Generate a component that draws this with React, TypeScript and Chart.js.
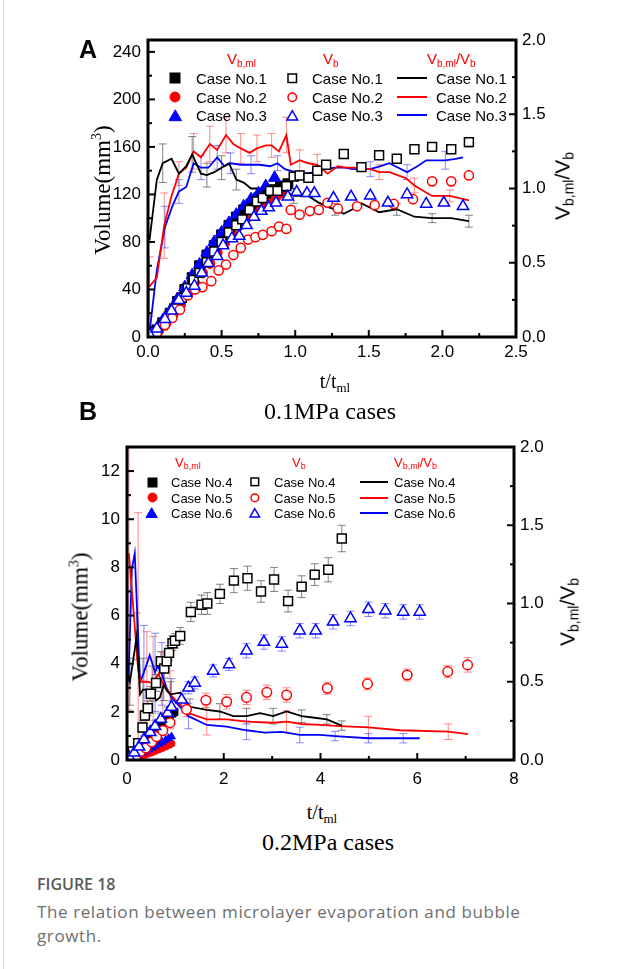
import React, { useEffect, useRef } from "react";
import { Chart, registerables } from "chart.js";
Chart.register(...registerables);

// ---------------- Panel A (0.1MPa) data ----------------
const A_X_TICKS = [0, 0.5, 1, 1.5, 2, 2.5];
const A_Y_TICKS = [0, 40, 80, 120, 160, 200, 240];
const A_Y2_TICKS = [0, 0.5, 1, 1.5, 2];
const A_CASES = ["Case No.1", "Case No.2", "Case No.3"];

// V_b,ml (filled)
const A_ML1 = [[0.02, 2], [0.06, 6], [0.1, 12], [0.15, 20], [0.2, 30], [0.25, 40], [0.3, 50], [0.35, 60], [0.4, 69], [0.45, 77], [0.5, 86], [0.55, 94], [0.6, 101], [0.65, 107], [0.7, 112], [0.75, 117], [0.8, 121], [0.85, 124], [0.9, 127], [0.95, 129]];
const A_ML2 = [[0.03, 2], [0.07, 5], [0.12, 11], [0.17, 19], [0.22, 27], [0.27, 36], [0.32, 45], [0.37, 54], [0.42, 62], [0.47, 71], [0.52, 79], [0.57, 87], [0.62, 94], [0.67, 100], [0.72, 106], [0.77, 111], [0.82, 115], [0.87, 118], [0.92, 121]];
const A_ML3 = [[0.02, 2], [0.06, 7], [0.1, 14], [0.15, 22], [0.2, 32], [0.25, 42], [0.3, 52], [0.35, 61], [0.4, 71], [0.45, 80], [0.5, 88], [0.55, 96], [0.6, 103], [0.65, 110], [0.7, 116], [0.75, 121], [0.8, 127], [0.86, 134]];
// V_b (open)
const A_B1 = [[0.02, 1], [0.05, 4], [0.1, 10], [0.14, 17], [0.18, 24], [0.23, 33], [0.27, 41], [0.31, 48], [0.35, 54], [0.4, 63], [0.45, 72], [0.5, 80], [0.55, 88], [0.6, 94], [0.64, 99], [0.69, 107], [0.74, 114], [0.78, 117], [0.83, 123], [0.88, 123], [0.94, 127], [0.99, 135, 3], [1.03, 136, 3], [1.09, 134, 4], [1.15, 140], [1.21, 145], [1.33, 154], [1.45, 143, 3], [1.57, 153], [1.69, 150, 3], [1.81, 158, 3], [1.93, 160, 3], [2.06, 158, 3], [2.18, 164, 4]];
const A_B2 = [[0.02, 1], [0.06, 3], [0.115, 10], [0.165, 16], [0.217, 23], [0.27, 35], [0.32, 40], [0.37, 42], [0.43, 47], [0.48, 56], [0.53, 61], [0.58, 69], [0.63, 75], [0.68, 82], [0.73, 84], [0.78, 86], [0.84, 89], [0.89, 93], [0.94, 91], [0.97, 107], [1.03, 103], [1.1, 106], [1.16, 107], [1.22, 113], [1.29, 108], [1.42, 110], [1.54, 111], [1.67, 112], [1.8, 116], [1.93, 131], [2.06, 131], [2.18, 136]];
const A_B3 = [[0.01, 2], [0.06, 7], [0.115, 15], [0.16, 22], [0.21, 31], [0.26, 37], [0.315, 43], [0.365, 54], [0.41, 62], [0.47, 68], [0.51, 77], [0.57, 83], [0.62, 85], [0.67, 94], [0.72, 101], [0.77, 106], [0.82, 109], [0.87, 113], [0.95, 118], [1.01, 122], [1.08, 121], [1.13, 121], [1.26, 117], [1.38, 118], [1.51, 119], [1.63, 113], [1.76, 120], [1.89, 112], [2.01, 113], [2.14, 110]];
// V_b,ml / V_b (lines, right axis) [x, y, err]
const A_R1 = [[0.01, 0.65, 0], [0.06, 1.06, 0], [0.1, 1.17, 0.13], [0.16, 1.2, 0], [0.21, 1.1, 0], [0.26, 1.15, 0], [0.3, 1.23, 0.12], [0.36, 1.1, 0], [0.4, 1.09, 0.08], [0.45, 1.11, 0], [0.5, 1.14, 0.08], [0.55, 1.17, 0], [0.6, 1.06, 0.07], [0.65, 1.04, 0], [0.7, 1.0, 0], [0.76, 1.0, 0], [0.8, 1.01, 0], [0.85, 0.99, 0], [0.9, 1.01, 0], [0.94, 0.98, 0], [0.99, 0.95, 0.05], [1.03, 0.95, 0], [1.09, 0.95, 0], [1.15, 0.91, 0], [1.21, 0.88, 0], [1.27, 0.86, 0.04], [1.33, 0.83, 0], [1.39, 0.86, 0], [1.45, 0.9, 0], [1.51, 0.87, 0], [1.57, 0.84, 0], [1.69, 0.86, 0.04], [1.81, 0.81, 0], [1.93, 0.8, 0.03], [2.06, 0.8, 0], [2.18, 0.78, 0.04]];
const A_R2 = [[0.01, 0.34, 0.2], [0.06, 0.4, 0], [0.11, 0.75, 0.22], [0.16, 0.95, 0], [0.21, 1.1, 0.08], [0.26, 1.14, 0], [0.31, 1.25, 0.12], [0.36, 1.21, 0], [0.42, 1.3, 0.12], [0.47, 1.26, 0], [0.53, 1.36, 0.12], [0.58, 1.3, 0], [0.63, 1.27, 0.1], [0.69, 1.24, 0], [0.74, 1.27, 0.09], [0.8, 1.29, 0], [0.84, 1.29, 0.08], [0.89, 1.25, 0], [0.94, 1.36, 0.12], [0.97, 1.16, 0], [1.03, 1.19, 0.07], [1.09, 1.17, 0], [1.15, 1.16, 0.07], [1.22, 1.1, 0], [1.29, 1.15, 0], [1.34, 1.14, 0], [1.4, 1.14, 0], [1.45, 1.13, 0], [1.51, 1.13, 0], [1.57, 1.11, 0.05], [1.64, 1.11, 0], [1.75, 1.07, 0], [1.81, 1.02, 0.05], [1.86, 0.99, 0], [1.93, 0.95, 0], [2.05, 0.95, 0.04], [2.18, 0.92, 0]];
const A_R3 = [[0.01, 0.03, 0], [0.06, 0.45, 0], [0.115, 0.74, 0.14], [0.165, 0.88, 0], [0.21, 0.98, 0.08], [0.26, 1.01, 0], [0.31, 1.17, 0], [0.36, 1.14, 0.08], [0.41, 1.14, 0], [0.47, 1.21, 0.08], [0.52, 1.15, 0], [0.56, 1.17, 0.07], [0.63, 1.16, 0], [0.7, 1.16, 0.06], [0.76, 1.16, 0], [0.83, 1.15, 0], [0.88, 1.17, 0.05], [0.93, 1.13, 0], [1.0, 1.11, 0], [1.07, 1.1, 0], [1.13, 1.11, 0], [1.2, 1.13, 0], [1.27, 1.14, 0], [1.34, 1.14, 0], [1.39, 1.13, 0], [1.45, 1.13, 0], [1.51, 1.13, 0.05], [1.58, 1.15, 0], [1.64, 1.17, 0], [1.7, 1.14, 0], [1.76, 1.11, 0.05], [1.83, 1.15, 0], [1.89, 1.19, 0], [1.95, 1.19, 0], [2.02, 1.19, 0.06], [2.09, 1.2, 0], [2.14, 1.21, 0]];

// ---------------- Panel B (0.2MPa) data ----------------
const B_X_TICKS = [0, 2, 4, 6, 8];
const B_Y_TICKS = [0, 2, 4, 6, 8, 10, 12];
const B_Y2_TICKS = [0, 0.5, 1, 1.5, 2];
const B_CASES = ["Case No.4", "Case No.5", "Case No.6"];

const B_ML4 = [[0.04, 0.05], [0.1, 0.15], [0.16, 0.27], [0.22, 0.4], [0.28, 0.52], [0.34, 0.66], [0.4, 0.8], [0.46, 0.93], [0.52, 1.06], [0.58, 1.2], [0.64, 1.33], [0.7, 1.45], [0.76, 1.57], [0.82, 1.7], [0.88, 1.82], [0.94, 1.93], [0.98, 2.0]];
const B_ML5 = [[0.04, 0.02], [0.1, 0.05], [0.17, 0.09], [0.24, 0.13], [0.31, 0.17], [0.38, 0.22], [0.45, 0.27], [0.52, 0.32], [0.59, 0.38], [0.66, 0.44], [0.73, 0.5], [0.8, 0.56], [0.86, 0.62], [0.92, 0.68]];
const B_ML6 = [[0.04, 0.03], [0.1, 0.08], [0.17, 0.14], [0.24, 0.21], [0.31, 0.28], [0.38, 0.35], [0.45, 0.43], [0.52, 0.51], [0.59, 0.59], [0.66, 0.67], [0.73, 0.75], [0.8, 0.83], [0.86, 0.9], [0.92, 0.97]];
const B_B4 = [[0.05, 0.15, 0], [0.12, 0.35, 0.1], [0.23, 0.7, 0.15], [0.32, 1.35, 0.2], [0.37, 1.85, 0.2], [0.43, 2.15, 0.3], [0.49, 2.75, 0.3], [0.6, 3.2, 0.35], [0.7, 4.1, 0.4], [0.77, 3.8, 0.4], [0.82, 4.1, 0.3], [0.87, 4.45, 0.3], [0.94, 4.85, 0.3], [0.99, 4.95, 0.3], [1.1, 5.15, 0.35], [1.32, 6.15, 0.4], [1.54, 6.45, 0.4], [1.66, 6.5, 0.45], [1.92, 6.9, 0.4], [2.21, 7.45, 0.5], [2.49, 7.55, 0.5], [2.77, 7.0, 0.45], [3.04, 7.5, 0.5], [3.33, 6.6, 0.45], [3.61, 7.2, 0.45], [3.88, 7.7, 0.45], [4.16, 7.9, 0.5], [4.44, 9.2, 0.55]];
const B_B5 = [[0.06, 0.07, 0], [0.19, 0.2, 0], [0.28, 0.35, 0], [0.39, 0.5, 0], [0.51, 0.75, 0.2], [0.61, 0.97, 0.2], [0.74, 1.22, 0.2], [0.89, 1.55, 0.25], [1.23, 2.1, 0.3], [1.63, 2.48, 0.3], [2.06, 2.42, 0.3], [2.47, 2.6, 0.3], [2.89, 2.81, 0.3], [3.3, 2.7, 0.3], [4.14, 2.98, 0.25], [4.97, 3.16, 0.25], [5.79, 3.53, 0.25], [6.63, 3.67, 0.25], [7.04, 3.95, 0.3]];
const B_B6 = [[0.05, 0.1, 0], [0.15, 0.3, 0], [0.25, 0.55, 0.1], [0.35, 0.85, 0.15], [0.48, 1.15, 0.2], [0.58, 1.4, 0.25], [0.7, 1.7, 0.25], [0.84, 1.95, 0.25], [0.92, 2.2, 0.25], [1.13, 2.5, 0.25], [1.27, 3.0, 0.25], [1.4, 3.2, 0.25], [1.78, 3.7, 0.25], [2.11, 3.97, 0.25], [2.47, 4.54, 0.3], [2.83, 4.9, 0.3], [3.2, 4.82, 0.3], [3.57, 5.37, 0.3], [3.9, 5.37, 0.3], [4.26, 5.74, 0.3], [4.62, 5.88, 0.3], [4.99, 6.26, 0.3], [5.34, 6.2, 0.3], [5.71, 6.15, 0.3], [6.05, 6.15, 0.3]];
const B_R4 = [[0.02, 0.55, 0], [0.06, 0.5, 0.15], [0.12, 0.62, 0], [0.2, 0.79, 0.15], [0.27, 0.42, 0], [0.33, 0.45, 0.2], [0.4, 0.45, 0], [0.46, 0.4, 0], [0.52, 0.45, 0.15], [0.6, 0.38, 0], [0.68, 0.4, 0], [0.76, 0.48, 0.1], [0.83, 0.44, 0], [0.9, 0.42, 0.08], [1.1, 0.43, 0], [1.3, 0.34, 0.05], [1.65, 0.32, 0], [1.92, 0.31, 0.05], [2.2, 0.28, 0], [2.47, 0.28, 0.05], [2.75, 0.3, 0], [3.02, 0.28, 0.05], [3.3, 0.31, 0], [3.61, 0.28, 0.04], [3.88, 0.27, 0], [4.13, 0.26, 0.03], [4.44, 0.22, 0.03]];
const B_R5 = [[0.04, 1.32, 1.0], [0.23, 0.58, 1.0], [0.28, 0.5, 0], [0.34, 0.5, 0], [0.41, 0.5, 0.32], [0.54, 0.49, 0.3], [0.65, 0.55, 0], [0.74, 0.49, 0.2], [0.89, 0.42, 0.15], [1.27, 0.3, 0], [1.65, 0.26, 0.1], [2.06, 0.26, 0], [2.47, 0.245, 0], [3.02, 0.238, 0], [3.3, 0.245, 0.07], [3.61, 0.23, 0], [3.99, 0.224, 0], [4.4, 0.217, 0], [4.99, 0.209, 0.07], [5.64, 0.19, 0], [6.64, 0.181, 0.05], [7.05, 0.166, 0]];
const B_R6 = [[0.03, 0.5, 0], [0.1, 1.22, 0], [0.16, 1.32, 0], [0.27, 0.5, 0], [0.35, 0.56, 0.3], [0.47, 0.67, 0], [0.58, 0.56, 0.25], [0.63, 0.6, 0], [0.72, 0.55, 0.2], [0.82, 0.46, 0], [0.92, 0.4, 0.12], [1.27, 0.28, 0.08], [1.65, 0.224, 0], [2.06, 0.213, 0], [2.47, 0.19, 0.06], [2.85, 0.175, 0], [3.2, 0.18, 0], [3.57, 0.16, 0.05], [3.99, 0.16, 0], [4.3, 0.153, 0.03], [4.99, 0.139, 0.03], [5.71, 0.139, 0.03], [6.05, 0.139, 0]];

const COLORS = ["#000000", "#ff0000", "#0000ff"];
const ERR_COLORS = ["rgba(90,90,90,0.75)", "rgba(255,60,60,0.6)", "rgba(60,60,255,0.6)"];

const SANS = "'Liberation Sans', Arial, sans-serif";
const SERIF = "'Liberation Serif', 'Times New Roman', serif";
const CAP_FONT = "'Open Sans', 'Noto Sans', sans-serif";

const pts = (a: number[][]) => a.map((p) => ({ x: p[0], y: p[1] }));
const errs = (a: number[][]) => a.map((p) => p[2] || 0);
const minors = (t: number[]) => t.slice(1).map((v, i) => (v + t[i]) / 2);

function markerDs(data: number[][], style: string, ci: number, r: number, filled: boolean, cap: number) {
  return {
    data: pts(data),
    showLine: false,
    pointStyle: style,
    pointRadius: r,
    pointHoverRadius: r,
    pointBackgroundColor: filled ? COLORS[ci] : "#ffffff",
    pointBorderColor: COLORS[ci],
    pointBorderWidth: filled ? 1 : 1.5,
    backgroundColor: filled ? COLORS[ci] : "#ffffff",
    borderColor: COLORS[ci],
    yAxisID: "y",
    errs: errs(data),
    errColor: ERR_COLORS[ci],
    errCap: cap,
  };
}
function lineDs(data: number[][], ci: number, cap: number) {
  return {
    data: pts(data),
    showLine: true,
    borderColor: COLORS[ci],
    backgroundColor: COLORS[ci],
    borderWidth: 1.8,
    pointRadius: 0,
    pointHoverRadius: 0,
    tension: 0,
    fill: false,
    yAxisID: "y2",
    errs: errs(data),
    errColor: ERR_COLORS[ci],
    errCap: cap,
  };
}

const errorBarPlugin = {
  id: "errorBars",
  beforeDatasetsDraw(chart: any) {
    const { ctx, chartArea: a } = chart;
    ctx.save();
    ctx.beginPath();
    ctx.rect(a.left, a.top, a.right - a.left, a.bottom - a.top);
    ctx.clip();
    chart.data.datasets.forEach((ds: any) => {
      if (!ds.errs) return;
      const xs = chart.scales.x;
      const ys = chart.scales[ds.yAxisID || "y"];
      ctx.strokeStyle = ds.errColor;
      ctx.lineWidth = 1;
      const cap = ds.errCap || 4;
      ds.data.forEach((p: any, j: number) => {
        const e = ds.errs[j];
        if (!e) return;
        const x = xs.getPixelForValue(p.x);
        const y1 = ys.getPixelForValue(p.y + e);
        const y2 = ys.getPixelForValue(p.y - e);
        ctx.beginPath();
        ctx.moveTo(x, y1);
        ctx.lineTo(x, y2);
        ctx.moveTo(x - cap, y1);
        ctx.lineTo(x + cap, y1);
        ctx.moveTo(x - cap, y2);
        ctx.lineTo(x + cap, y2);
        ctx.stroke();
      });
    });
    ctx.restore();
  },
};

function makeFramePlugin(xT: number[], yT: number[], y2T: number[]) {
  return {
    id: "frameTicks",
    afterDraw(chart: any) {
      const { ctx, chartArea: a, scales } = chart;
      ctx.save();
      ctx.strokeStyle = "#000";
      ctx.lineWidth = 2;
      const maj = 7, mnr = 4;
      const seg = (x1: number, y1: number, x2: number, y2: number) => {
        ctx.beginPath();
        ctx.moveTo(x1, y1);
        ctx.lineTo(x2, y2);
        ctx.stroke();
      };
      const doX = (vals: number[], len: number) =>
        vals.forEach((v) => {
          const px = scales.x.getPixelForValue(v);
          seg(px, a.bottom, px, a.bottom - len);
        });
      const doY = (vals: number[], len: number) =>
        vals.forEach((v) => {
          const py = scales.y.getPixelForValue(v);
          seg(a.left, py, a.left + len, py);
        });
      const doY2 = (vals: number[], len: number) =>
        vals.forEach((v) => {
          const py = scales.y2.getPixelForValue(v);
          seg(a.right, py, a.right - len, py);
        });
      doX(xT, maj);
      doX(minors(xT), mnr);
      doY(yT, maj);
      doY(minors(yT), mnr);
      doY2(y2T, maj);
      doY2(minors(y2T), mnr);
      ctx.lineWidth = 3;
      ctx.strokeRect(a.left, a.top, a.right - a.left, a.bottom - a.top);
      ctx.restore();
    },
  };
}

function buildConfig(p: any) {
  const font = { family: SANS, size: 17 };
  const grid = { display: false, drawTicks: false, tickLength: 0 };
  return {
    type: "scatter",
    data: { datasets: p.datasets },
    options: {
      responsive: false,
      maintainAspectRatio: false,
      animation: false,
      events: [],
      layout: { padding: { top: p.padTop, left: 0, right: 0, bottom: 0 } },
      plugins: { legend: { display: false }, tooltip: { enabled: false }, title: { display: false } },
      scales: {
        x: {
          type: "linear",
          min: p.xT[0],
          max: p.xT[p.xT.length - 1],
          grid,
          border: { display: false },
          ticks: {
            stepSize: p.xT[1] - p.xT[0],
            includeBounds: false,
            autoSkip: false,
            maxRotation: 0,
            color: "#000",
            font,
            padding: p.xPad,
            callback: (v: number) => p.xFmt(v),
          },
          afterFit: (s: any) => { s.height = p.xH; },
        },
        y: {
          type: "linear",
          position: "left",
          min: 0,
          max: p.yMax,
          grid,
          border: { display: false },
          ticks: {
            stepSize: p.yT[1] - p.yT[0],
            includeBounds: false,
            autoSkip: false,
            color: "#000",
            font,
            padding: 7,
            callback: (v: number) => String(v),
          },
          afterFit: (s: any) => { s.width = p.yW; },
        },
        y2: {
          type: "linear",
          position: "right",
          min: 0,
          max: 2,
          grid,
          border: { display: false },
          ticks: {
            stepSize: 0.5,
            includeBounds: false,
            autoSkip: false,
            color: "#000",
            font,
            padding: 6,
            callback: (v: number) => Number(v).toFixed(1),
          },
          afterFit: (s: any) => { s.width = p.y2W; },
        },
      },
    },
    plugins: [errorBarPlugin, makeFramePlugin(p.xT, p.yT, p.y2T)],
  };
}

function PlotCanvas({ make, top, height }: { make: () => any; top: number; height: number }) {
  const ref = useRef<HTMLCanvasElement>(null);
  useEffect(() => {
    const chart = new Chart(ref.current as HTMLCanvasElement, make());
    return () => chart.destroy();
  }, []);
  return (
    <canvas
      ref={ref}
      width={639}
      height={height}
      style={{ position: "absolute", left: 0, top, width: 639, height }}
    />
  );
}

const makeA = () =>
  buildConfig({
    padTop: 40,
    xT: A_X_TICKS,
    yT: A_Y_TICKS,
    y2T: A_Y2_TICKS,
    yMax: 250,
    xH: 43,
    yW: 148,
    y2W: 123,
    xPad: 5,
    xFmt: (v: number) => Number(v).toFixed(1),
    datasets: [
      markerDs(A_B3, "triangle", 2, 6.5, false, 4),
      markerDs(A_B2, "circle", 1, 4.6, false, 4),
      markerDs(A_B1, "rect", 0, 6.3, false, 4),
      markerDs(A_ML3, "triangle", 2, 7, true, 4),
      markerDs(A_ML1, "rect", 0, 7, true, 4),
      markerDs(A_ML2, "circle", 1, 5, true, 4),
      lineDs(A_R1, 0, 4),
      lineDs(A_R2, 1, 4),
      lineDs(A_R3, 2, 4),
    ],
  });

const makeB = () =>
  buildConfig({
    padTop: 67,
    xT: B_X_TICKS,
    yT: B_Y_TICKS,
    y2T: B_Y2_TICKS,
    yMax: 13,
    xH: 40,
    yW: 127,
    y2W: 125,
    xPad: 9,
    xFmt: (v: number) => String(v),
    datasets: [
      markerDs(B_B6, "triangle", 2, 6.5, false, 4),
      markerDs(B_B5, "circle", 1, 4.8, false, 4),
      markerDs(B_B4, "rect", 0, 6.3, false, 4),
      markerDs(B_ML6, "triangle", 2, 4.5, true, 3),
      markerDs(B_ML4, "rect", 0, 5, true, 3),
      markerDs(B_ML5, "circle", 1, 3.5, true, 3),
      lineDs(B_R4, 0, 4),
      lineDs(B_R5, 1, 4),
      lineDs(B_R6, 2, 4),
    ],
  });

function Marker({ shape, filled, color, size, x, y }: any) {
  const pad = 2;
  const w = size + pad * 2;
  let el: any = null;
  const fill = filled ? color : "#fff";
  const sw = filled ? 1 : 1.5;
  if (shape === "rect") {
    el = <rect x={pad} y={pad} width={size} height={size} fill={fill} stroke={color} strokeWidth={sw} />;
  } else if (shape === "circle") {
    el = <circle cx={w / 2} cy={w / 2} r={size / 2} fill={fill} stroke={color} strokeWidth={sw} />;
  } else {
    const h = (size * Math.sqrt(3)) / 2;
    const t = (w - h) / 2;
    el = (
      <polygon
        points={`${w / 2},${t} ${pad},${t + h} ${w - pad},${t + h}`}
        fill={fill}
        stroke={color}
        strokeWidth={sw}
      />
    );
  }
  return (
    <svg width={w} height={w} style={{ position: "absolute", left: x - w / 2, top: y - w / 2 }}>
      {el}
    </svg>
  );
}

function Txt({ x, y, size, children, family = SANS, color = "#000", weight = 400, center = false, spacing = 0 }: any) {
  return (
    <div
      style={{
        position: "absolute",
        left: x,
        top: y,
        transform: center ? "translate(-50%,-50%)" : "translateY(-50%)",
        fontFamily: family,
        fontSize: size,
        fontWeight: weight,
        color,
        lineHeight: 1,
        letterSpacing: spacing,
        whiteSpace: "nowrap",
      }}
    >
      {children}
    </div>
  );
}

function Sub({ size, children }: any) {
  return <sub style={{ fontSize: size, verticalAlign: "-0.3em", lineHeight: 0 }}>{children}</sub>;
}

function VTitle({ x, y, size, family, children }: any) {
  return (
    <div
      style={{
        position: "absolute",
        left: x,
        top: y,
        transform: "translate(-50%,-50%) rotate(-90deg)",
        fontFamily: family,
        fontSize: size,
        color: "#000",
        lineHeight: 1,
        whiteSpace: "nowrap",
      }}
    >
      {children}
    </div>
  );
}

function Legend({ cases, rows, hy, col, fs, sub, ms }: any) {
  const shapes = ["rect", "circle", "triangle"];
  const msz = [ms, ms, ms * 1.25];
  return (
    <>
      <Txt x={col.h1} y={hy} size={fs} color="#ff0000">V<Sub size={sub}>b,ml</Sub></Txt>
      <Txt x={col.h2} y={hy} size={fs} color="#ff0000">V<Sub size={sub}>b</Sub></Txt>
      <Txt x={col.h3} y={hy} size={fs} color="#ff0000">V<Sub size={sub}>b,ml</Sub>/V<Sub size={sub}>b</Sub></Txt>
      {cases.map((c: string, i: number) => (
        <React.Fragment key={c}>
          <Marker shape={shapes[i]} filled color={COLORS[i]} size={msz[i]} x={col.m1} y={rows[i]} />
          <Txt x={col.t1} y={rows[i]} size={fs}>{c}</Txt>
          <Marker shape={shapes[i]} filled={false} color={COLORS[i]} size={msz[i] * 0.85} x={col.m2} y={rows[i]} />
          <Txt x={col.t2} y={rows[i]} size={fs}>{c}</Txt>
          <div style={{ position: "absolute", left: col.l1, top: rows[i] - 1, width: col.l2 - col.l1, height: 2, background: COLORS[i] }} />
          <Txt x={col.t3} y={rows[i]} size={fs}>{c}</Txt>
        </React.Fragment>
      ))}
    </>
  );
}

export default function App() {
  return (
    <div style={{ position: "absolute", left: 0, top: 0, width: 639, height: 969, background: "#fff", overflow: "hidden" }}>
      <div style={{ position: "absolute", left: 3, top: 0, width: 1, height: 969, background: "#d9d9d9" }} />
      <PlotCanvas make={makeA} top={0} height={380} />
      <PlotCanvas make={makeB} top={380} height={420} />

      {/* Panel A texts */}
      <Txt x={79} y={49} size={25} weight={700}>A</Txt>
      <VTitle x={102} y={190} size={23} family={SERIF}>Volume(mm<sup style={{ fontSize: 14, lineHeight: 0 }}>3</sup>)</VTitle>
      <VTitle x={562} y={186} size={21} family={SANS}>V<Sub size={14}>b,ml</Sub>/V<Sub size={14}>b</Sub></VTitle>
      <Txt x={335} y={381} size={20} family={SERIF} center>t/t<Sub size={13}>ml</Sub></Txt>
      <Txt x={330} y={411} size={24} family={SERIF} center>0.1MPa cases</Txt>
      <Legend
        cases={A_CASES}
        rows={[78, 97, 115]}
        hy={58}
        fs={15}
        sub={10}
        ms={10}
        col={{ h1: 227, h2: 323, h3: 427, m1: 175, t1: 196, m2: 292, t2: 312, l1: 397, l2: 427, t3: 436 }}
      />

      {/* Panel B texts */}
      <Txt x={79} y={411} size={25} weight={700}>B</Txt>
      <VTitle x={80} y={617} size={23} family={SERIF}>Volume(mm<sup style={{ fontSize: 14, lineHeight: 0 }}>3</sup>)</VTitle>
      <VTitle x={567} y={612} size={21} family={SANS}>V<Sub size={14}>b,ml</Sub>/V<Sub size={14}>b</Sub></VTitle>
      <Txt x={322} y={812} size={20} family={SERIF} center>t/t<Sub size={13}>ml</Sub></Txt>
      <Txt x={328} y={842} size={24} family={SERIF} center>0.2MPa cases</Txt>
      <Legend
        cases={B_CASES}
        rows={[482, 497.5, 513]}
        hy={462}
        fs={13}
        sub={9}
        ms={9}
        col={{ h1: 175, h2: 292, h3: 394, m1: 152, t1: 171, m2: 255, t2: 274, l1: 360, l2: 388, t3: 394 }}
      />

      {/* Caption */}
      <Txt x={37} y={884} size={16} family={CAP_FONT} weight={600} color="#595959">FIGURE 18</Txt>
      <Txt x={37} y={911} size={17} family={CAP_FONT} color="#6e6e6e" spacing={0.6}>The relation between microlayer evaporation and bubble</Txt>
      <Txt x={37} y={935} size={17} family={CAP_FONT} color="#6e6e6e" spacing={0.6}>growth.</Txt>
    </div>
  );
}
